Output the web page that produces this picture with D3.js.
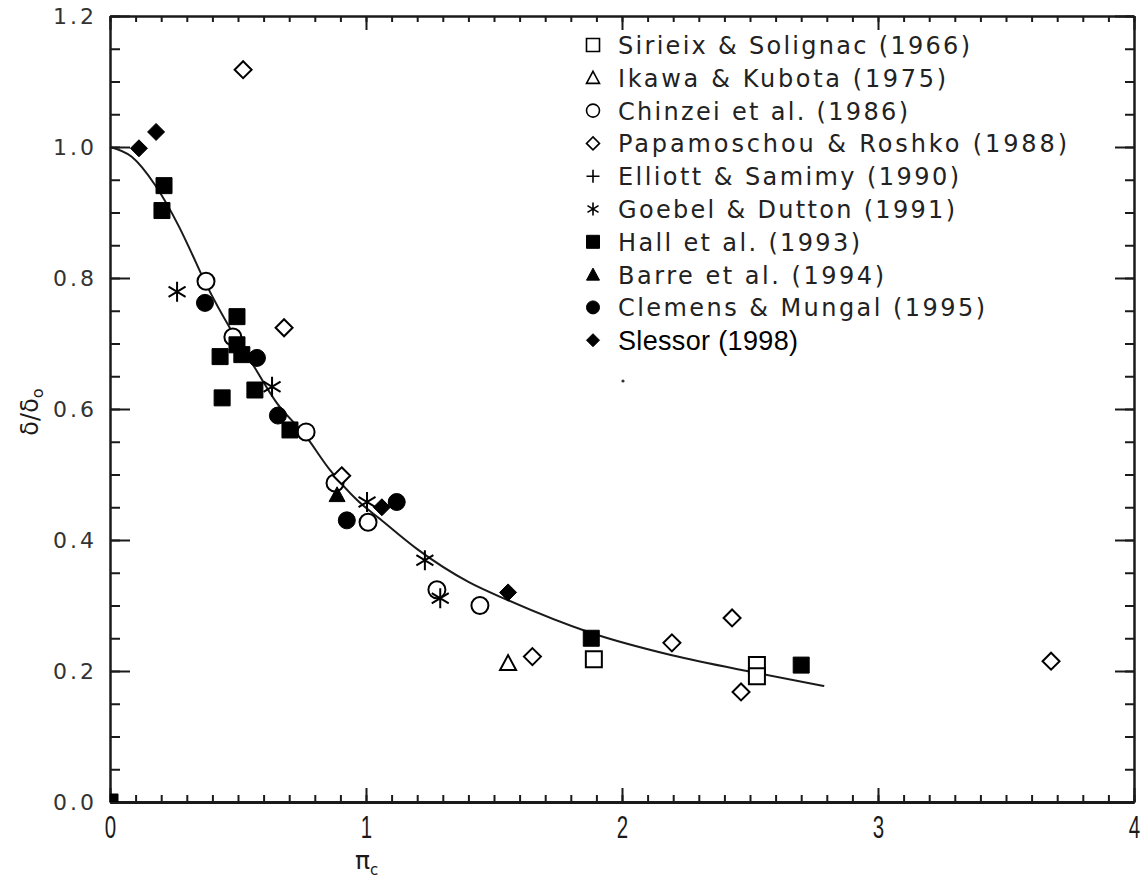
<!DOCTYPE html>
<html>
<head>
<script src="https://d3js.org/d3.v7.min.js"></script>
<style>
    body { margin: 0; background: #fff; }
</style>
</head>
<body>
<svg id="chart" width="1148" height="882"></svg>
<script>
// data (pi_c, delta/delta_0)
var seriesNames = ["Sirieix & Solignac (1966)", "Ikawa & Kubota (1975)", "Chinzei et al. (1986)",
    "Papamoschou & Roshko (1988)", "Elliott & Samimy (1990)", "Goebel & Dutton (1991)",
    "Hall et al. (1993)", "Barre et al. (1994)", "Clemens & Mungal (1995)", "Slessor (1998)"];
var seriesSymbols = ["square", "triangle", "circle", "diamond", "plus", "asterisk",
    "square", "triangle", "circle", "diamond"];
var seriesFilled = [false, false, false, false, false, false, true, true, true, true];

var sirieix = [[1.89, 0.218], [2.527, 0.209], [2.527, 0.192]];
var ikawa = [[1.555, 0.212]];
var chinzei = [[0.375, 0.795], [0.48, 0.71], [0.766, 0.565], [0.879, 0.487], [1.008, 0.427], [1.277, 0.324], [1.445, 0.30]];
var papamoschou = [[0.52, 1.118], [0.68, 0.724], [0.905, 0.498], [1.65, 0.222], [2.195, 0.243], [2.43, 0.281], [2.465, 0.168], [3.676, 0.215]];
var elliott = [];
var goebel = [[0.262, 0.779], [0.633, 0.634], [1.004, 0.458], [1.23, 0.369], [1.29, 0.311]];
var hall = [[0.211, 0.941], [0.203, 0.903], [0.496, 0.741], [0.496, 0.698], [0.43, 0.68], [0.515, 0.683],
    [0.438, 0.617], [0.566, 0.629], [0.703, 0.568], [1.88, 0.25], [2.70, 0.209], [0, 0]];
var barre = [[0.887, 0.469]];
var clemens = [[0.371, 0.762], [0.574, 0.678], [0.656, 0.59], [0.925, 0.43], [1.12, 0.458]];
var slessor = [[0.113, 0.998], [0.18, 1.023], [1.062, 0.45], [1.555, 0.32]];
var seriesData = [sirieix, ikawa, chinzei, papamoschou, elliott, goebel, hall, barre, clemens, slessor];

// fitted curve
var curveX = [0, 0.085, 0.176, 0.27, 0.313, 0.371, 0.477, 0.547, 0.652, 0.762, 0.859, 0.965, 1.055, 1.2, 1.4, 1.555, 1.88, 2.195, 2.527, 2.79];
var curveY = [1.0, 0.985, 0.942, 0.878, 0.843, 0.794, 0.718, 0.675, 0.609, 0.56, 0.507, 0.461, 0.432, 0.386, 0.336, 0.308, 0.258, 0.224, 0.197, 0.177];

var xMajor = [0, 1, 2, 3, 4];
var xMinor = d3.range(0, 41).map(function (i) { return i / 10; });
var yMajor = [0, 0.2, 0.4, 0.6, 0.8, 1.0, 1.2];
var yMinor = d3.range(0, 25).map(function (i) { return i * 0.05; });
var legendWidths = [352, 328, 290, 449, 341, 337, 242, 266, 367, 180];

var svg = d3.select("#chart");
var x = d3.scaleLinear().domain([0, 4]).range([110, 1134]);
var y = d3.scaleLinear().domain([0, 1.2]).range([802, 16]);
var ink = "#1a1a1a";

// clip for marks
svg.append("clipPath").attr("id", "plotclip")
    .append("rect").attr("x", x(0)).attr("y", y(1.2)).attr("width", x(4) - x(0)).attr("height", y(0) - y(1.2));

function drawAxis(axis, transform, width) {
    var g = svg.append("g").attr("transform", transform).call(axis);
    g.select(".domain").attr("stroke", ink).attr("stroke-width", width);
    g.selectAll(".tick line").attr("stroke", ink).attr("stroke-width", 2);
    return g;
}

// minor ticks, all four sides, pointing inward
drawAxis(d3.axisBottom(x).tickValues(xMinor).tickSize(-7).tickSizeOuter(0).tickFormat(""), "translate(0," + y(0) + ")", 3);
drawAxis(d3.axisTop(x).tickValues(xMinor).tickSize(-6).tickSizeOuter(0).tickFormat(""), "translate(0," + y(1.2) + ")", 2);
drawAxis(d3.axisLeft(y).tickValues(yMinor).tickSize(-10).tickSizeOuter(0).tickFormat(""), "translate(" + x(0) + ",0)", 2);
drawAxis(d3.axisRight(y).tickValues(yMinor).tickSize(-9).tickSizeOuter(0).tickFormat(""), "translate(" + x(4) + ",0)", 2);

// major ticks with labels
var bottom = drawAxis(d3.axisBottom(x).tickValues(xMajor).tickSize(-14).tickSizeOuter(0).tickPadding(14)
    .tickFormat(d3.format("d")), "translate(0," + y(0) + ")", 3);
bottom.selectAll("text").attr("font-family", "Liberation Sans, Arial, sans-serif").attr("font-size", 31)
    .attr("fill", ink).attr("transform", "scale(0.66,1)");
drawAxis(d3.axisTop(x).tickValues(xMajor).tickSize(-14).tickSizeOuter(0).tickFormat(""), "translate(0," + y(1.2) + ")", 2);
var left = drawAxis(d3.axisLeft(y).tickValues(yMajor).tickSize(-20).tickSizeOuter(0).tickPadding(13)
    .tickFormat(d3.format(".1f")), "translate(" + x(0) + ",0)", 2);
left.selectAll("text").attr("font-family", "DejaVu Sans, sans-serif").attr("font-size", 22)
    .attr("fill", "#333").attr("letter-spacing", 3);
drawAxis(d3.axisRight(y).tickValues(yMajor).tickSize(-19).tickSizeOuter(0).tickFormat(""), "translate(" + x(4) + ",0)", 2);

// axis titles
var xt = svg.append("text").attr("x", 355).attr("y", 869)
    .attr("font-family", "DejaVu Sans, sans-serif").attr("font-size", 25).attr("fill", ink);
xt.append("tspan").text("π");
xt.append("tspan").attr("font-size", 15).attr("dy", 6).text("c");

var yt = svg.append("text").attr("transform", "translate(38,412) rotate(-90)").attr("text-anchor", "middle")
    .attr("font-family", "DejaVu Sans, sans-serif").attr("font-size", 24).attr("fill", ink);
yt.append("tspan").text("δ/δ");
yt.append("tspan").attr("font-size", 16).attr("dy", 5).text("o");

// fitted curve
var curvePts = curveX.map(function (v, i) { return [v, curveY[i]]; });
svg.append("path").datum(curvePts)
    .attr("fill", "none").attr("stroke", ink).attr("stroke-width", 2)
    .attr("d", d3.line().x(function (d) { return x(d[0]); }).y(function (d) { return y(d[1]); }).curve(d3.curveMonotoneX));

// marker shapes
function symbolPath(type, r) {
    if (type === "square") return "M" + (-r) + "," + (-r) + "h" + (2 * r) + "v" + (2 * r) + "h" + (-2 * r) + "Z";
    if (type === "circle") return "M" + r + ",0A" + r + "," + r + " 0 1,1 " + (-r) + ",0A" + r + "," + r + " 0 1,1 " + r + ",0Z";
    if (type === "diamond") return "M0," + (-r) + "L" + r + ",0L0," + r + "L" + (-r) + ",0Z";
    if (type === "triangle") return "M0," + (-r) + "L" + r + "," + (r * 0.85) + "L" + (-r) + "," + (r * 0.85) + "Z";
    if (type === "plus") return "M0," + (-r) + "V" + r + "M" + (-r) + ",0H" + r;
    if (type === "asterisk") {
        var a = r * 0.85;
        return "M0," + (-r) + "V" + r + "M" + (-a) + "," + (-a * 0.6) + "L" + a + "," + (a * 0.6) +
            "M" + (-a) + "," + (a * 0.6) + "L" + a + "," + (-a * 0.6);
    }
    return "";
}

function styleMarker(sel, i, r) {
    var t = seriesSymbols[i];
    var line = t === "plus" || t === "asterisk";
    sel.attr("d", symbolPath(t, r))
        .attr("fill", line ? "none" : (seriesFilled[i] ? "#000" : "#fff"))
        .attr("stroke", "#000")
        .attr("stroke-width", line ? 2 : (seriesFilled[i] ? 1 : 2));
}

var marks = svg.append("g").attr("clip-path", "url(#plotclip)");
// open symbols first, filled on top
var order = [0, 1, 2, 3, 4, 6, 7, 8, 9, 5];
order.forEach(function (i) {
    var t = seriesSymbols[i];
    var r = t === "asterisk" ? 10 : (t === "circle" || t === "diamond" ? 8.5 : 8);
    marks.selectAll(".s" + i).data(seriesData[i]).enter().append("path")
        .attr("class", "s" + i)
        .attr("transform", function (d) { return "translate(" + x(d[0]) + "," + y(d[1]) + ")"; })
        .call(styleMarker, i, r);
});

// legend
var legend = svg.append("g").attr("transform", "translate(593,45)");
seriesNames.forEach(function (name, i) {
    var row = legend.append("g").attr("transform", "translate(0," + (i * 32.8) + ")");
    row.append("path").call(styleMarker, i, 6.5)
        .attr("stroke-width", seriesFilled[i] ? 1 : 1.6);
    var last = i === seriesNames.length - 1;
    row.append("text").attr("x", 25).attr("y", last ? 10 : 9)
        .attr("font-family", last ? "Liberation Sans, Arial, sans-serif" : "DejaVu Sans, sans-serif")
        .attr("font-size", last ? 27 : 24)
        .attr("fill", last ? "#000" : "#222")
        .attr("textLength", legendWidths[i]).attr("lengthAdjust", "spacing")
        .text(name);
});
legend.append("circle").attr("cx", 30).attr("cy", 336).attr("r", 1.6).attr("fill", "#333");
</script>
</body>
</html>
